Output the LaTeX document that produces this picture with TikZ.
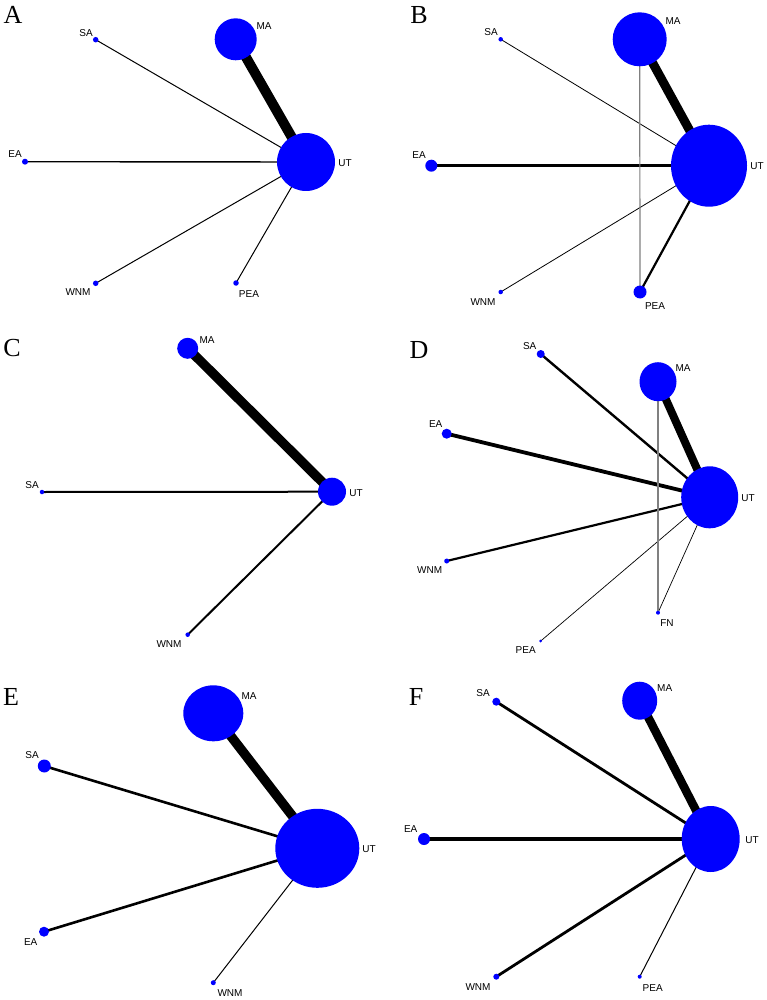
\documentclass[tikz,border=0pt]{standalone}
\usepackage{fontspec}
\newfontfamily\labfont{Liberation Sans}
\newfontfamily\panfont{Liberation Serif}
\usetikzlibrary{shapes.geometric,backgrounds}
\definecolor{nodeblue}{RGB}{0,0,255}
\tikzset{
  vert/.style={ellipse, fill=nodeblue, draw=none, inner sep=0pt},
  vc/.style={vert, minimum width=#1, minimum height=#1},
  lbl/.style={font=\labfont\fontsize{10}{12}\selectfont, inner sep=0pt, anchor=center},
  pan/.style={font=\panfont\fontsize{26}{30}\selectfont, inner sep=0pt, anchor=center},
  edge/.style={draw=black, line width=#1},
  gedge/.style={draw=gray, line width=#1}
}
\begin{document}
\begin{tikzpicture}[x=1pt,y=-1pt]
\useasboundingbox (0,0) rectangle (767,1000);
% ---------- Panel A ----------
\node[pan] (pA) at (13,15) {A};
\node[vc=42pt] (aMA) at (235.7,39.3) {};
\node[vc=5.5pt] (aSA) at (95.7,39.7) {};
\node[vc=6pt] (aEA) at (25,161.7) {};
\node[vc=58pt] (aUT) at (306,162) {};
\node[vc=5.5pt] (aWNM) at (95.7,283.3) {};
\node[vc=5.5pt] (aPEA) at (236,283) {};
\node[lbl] (aMAl) at (264,26) {MA};
\node[lbl] (aSAl) at (86,33) {SA};
\node[lbl] (aEAl) at (15,154) {EA};
\node[lbl] (aUTl) at (345,163) {UT};
\node[lbl] (aWNMl) at (78,292) {WNM};
\node[lbl] (aPEAl) at (249,294) {PEA};
% ---------- Panel B ----------
\node[pan] (pB) at (419,15) {B};
\node[vc=54pt] (bMA) at (639.7,39.3) {};
\node[vc=4.5pt] (bSA) at (500.7,39.3) {};
\node[vc=12pt] (bEA) at (431.3,165.7) {};
\node[vert, minimum width=76pt, minimum height=82pt] (bUT) at (709,165.7) {};
\node[vc=4.5pt] (bWNM) at (500.7,292) {};
\node[vc=13pt] (bPEA) at (640,292) {};
\node[lbl] (bMAl) at (673,21) {MA};
\node[lbl] (bSAl) at (491,32) {SA};
\node[lbl] (bEAl) at (419,155) {EA};
\node[lbl] (bUTl) at (757,166) {UT};
\node[lbl] (bWNMl) at (483,302) {WNM};
\node[lbl] (bPEAl) at (655,306) {PEA};
% ---------- Panel C ----------
\node[pan] (pC) at (12,348) {C};
\node[vc=21pt] (cMA) at (187.7,348.3) {};
\node[vc=4.5pt] (cSA) at (42,492) {};
\node[vc=28pt] (cUT) at (332,491.7) {};
\node[vc=4.5pt] (cWNM) at (187.7,634.7) {};
\node[lbl] (cMAl) at (207,340) {MA};
\node[lbl] (cSAl) at (32,485) {SA};
\node[lbl] (cUTl) at (356,493) {UT};
\node[lbl] (cWNMl) at (169,644) {WNM};
% ---------- Panel D ----------
\node[pan] (pD) at (419,350) {D};
\node[vc=8pt] (dSA) at (540.7,354) {};
\node[vert, minimum width=37pt, minimum height=39pt] (dMA) at (658,381.7) {};
\node[vc=10pt] (dEA) at (446.7,433.7) {};
\node[vert, minimum width=57pt, minimum height=62pt] (dUT) at (709.7,497.3) {};
\node[vc=5pt] (dWNM) at (446.7,561) {};
\node[vc=4pt] (dFN) at (658,612.7) {};
\node[vc=3pt] (dPEA) at (540.7,641) {};
\node[lbl] (dSAl) at (529.7,346) {SA};
\node[lbl] (dMAl) at (683,368) {MA};
\node[lbl] (dEAl) at (435.7,424) {EA};
\node[lbl] (dUTl) at (748,498) {UT};
\node[lbl] (dWNMl) at (429.7,570) {WNM};
\node[lbl] (dFNl) at (667,623) {FN};
\node[lbl] (dPEAl) at (525.7,650) {PEA};
% ---------- Panel E ----------
\node[pan] (pE) at (11,697) {E};
\node[vert, minimum width=60pt, minimum height=56pt] (eMA) at (213.3,713.3) {};
\node[vc=13pt] (eSA) at (44.3,766) {};
\node[vert, minimum width=84pt, minimum height=79pt] (eUT) at (317.3,848.3) {};
\node[vc=10pt] (eEA) at (44,931.7) {};
\node[vc=5pt] (eWNM) at (213.3,982.7) {};
\node[lbl] (eMAl) at (249,695.7) {MA};
\node[lbl] (eSAl) at (32,755) {SA};
\node[lbl] (eUTl) at (369,849) {UT};
\node[lbl] (eEAl) at (30.7,942) {EA};
\node[lbl] (eWNMl) at (230,993) {WNM};
% ---------- Panel F ----------
\node[pan] (pF) at (416,697) {F};
\node[vc=8pt] (fSA) at (496.3,701.7) {};
\node[vert, minimum width=35pt, minimum height=38pt] (fMA) at (639.7,700.7) {};
\node[vc=12pt] (fEA) at (424,839) {};
\node[vert, minimum width=58pt, minimum height=66pt] (fUT) at (710.7,839) {};
\node[vc=6pt] (fWNM) at (496.3,976.7) {};
\node[vc=4pt] (fPEA) at (639.7,976.7) {};
\node[lbl] (fSAl) at (483,693) {SA};
\node[lbl] (fMAl) at (664.7,688) {MA};
\node[lbl] (fEAl) at (410.7,829) {EA};
\node[lbl] (fUTl) at (752,840) {UT};
\node[lbl] (fWNMl) at (478,987) {WNM};
\node[lbl] (fPEAl) at (652.7,988) {PEA};
% ---------- Edges ----------
\begin{pgfonlayer}{background}
% A
\draw[edge=10pt] (aMA.center) -- (aUT.center);
\draw[edge=1pt] (aSA.center) -- (aUT.center);
\draw[edge=1.4pt] (aEA.center) -- (aUT.center);
\draw[edge=1pt] (aWNM.center) -- (aUT.center);
\draw[edge=1pt] (aPEA.center) -- (aUT.center);
% B
\draw[edge=9pt] (bMA.center) -- (bUT.center);
\draw[edge=0.8pt] (bSA.center) -- (bUT.center);
\draw[edge=2.8pt] (bEA.center) -- (bUT.center);
\draw[edge=0.8pt] (bWNM.center) -- (bUT.center);
\draw[edge=2.2pt] (bPEA.center) -- (bUT.center);
\draw[gedge=1.2pt] (bMA.center) -- (bPEA.center);
% C
\draw[edge=9.5pt] (cMA.center) -- (cUT.center);
\draw[edge=2pt] (cSA.center) -- (cUT.center);
\draw[edge=2pt] (cWNM.center) -- (cUT.center);
% D
\draw[edge=2.4pt] (dSA.center) -- (dUT.center);
\draw[edge=3.8pt] (dEA.center) -- (dUT.center);
\draw[edge=8pt] (dMA.center) -- (dUT.center);
\draw[edge=2.2pt] (dWNM.center) -- (dUT.center);
\draw[edge=0.7pt] (dPEA.center) -- (dUT.center);
\draw[edge=0.7pt] (dFN.center) -- (dUT.center);
\draw[gedge=1.2pt] (dMA.center) -- (dFN.center);
% E
\draw[edge=9.5pt] (eMA.center) -- (eUT.center);
\draw[edge=2.6pt] (eSA.center) -- (eUT.center);
\draw[edge=2.6pt] (eEA.center) -- (eUT.center);
\draw[edge=1pt] (eWNM.center) -- (eUT.center);
% F
\draw[edge=2.8pt] (fSA.center) -- (fUT.center);
\draw[edge=4pt] (fEA.center) -- (fUT.center);
\draw[edge=8.5pt] (fMA.center) -- (fUT.center);
\draw[edge=2.8pt] (fWNM.center) -- (fUT.center);
\draw[edge=1pt] (fPEA.center) -- (fUT.center);
\end{pgfonlayer}
\end{tikzpicture}
\end{document}
